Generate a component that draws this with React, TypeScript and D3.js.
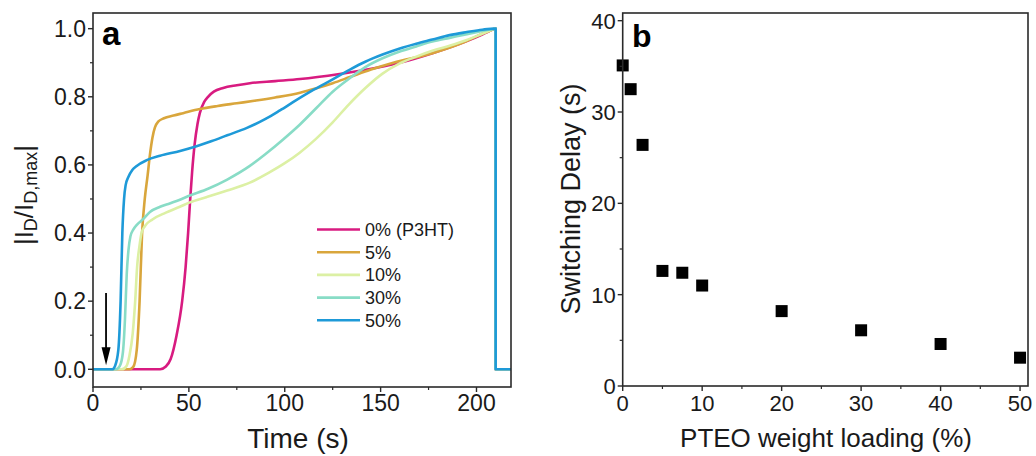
import React from "react";
import * as d3 from "d3";

const W = 1036;
const H = 456;
const FONT = "'Liberation Sans', Arial, Helvetica, sans-serif";

// ---------- Panel a data: normalized drain current |ID/ID,max| vs time (s) ----------
const SERIES_LABELS = ["0% (P3HT)", "5%", "10%", "30%", "50%"];
const SERIES_COLORS = ["#d81b80", "#d9a63c", "#dcf0a4", "#88dcc6", "#1e9ad8"];

const CURVE_0: [number, number][] = [
  [0, 0], [35, 0], [38, 0.008], [40.5, 0.03], [43.6, 0.1], [46.5, 0.2], [48.3, 0.3],
  [49.6, 0.4], [50.7, 0.5], [51.7, 0.58], [53, 0.66], [54.5, 0.72], [55.7, 0.752],
  [58, 0.785], [60, 0.8], [63, 0.815], [67.9, 0.826], [75, 0.834], [81.8, 0.84],
  [95, 0.846], [108, 0.852], [128.6, 0.867], [143, 0.88], [160, 0.9], [177, 0.928],
  [194.6, 0.963], [203, 0.983], [209.5, 1.0],
];
const CURVE_5: [number, number][] = [
  [0, 0], [19, 0], [21, 0.007], [22.8, 0.056], [24.3, 0.2], [25.6, 0.4], [27, 0.5],
  [28.5, 0.57], [29.7, 0.63], [31, 0.68], [32.3, 0.71], [34, 0.727], [37, 0.737],
  [42, 0.745], [47, 0.752], [55.7, 0.764], [65, 0.773], [75, 0.781], [85, 0.789],
  [95, 0.798], [108, 0.812], [116.5, 0.825], [125, 0.84], [134, 0.858], [145, 0.88],
  [156.6, 0.9], [177, 0.928], [194.6, 0.963], [203, 0.985], [209.5, 1.0],
];
const CURVE_10: [number, number][] = [
  [0, 0], [15, 0], [17.5, 0.01], [19, 0.04], [20.7, 0.105], [22, 0.2], [23, 0.3],
  [24.2, 0.36], [25.3, 0.4], [27, 0.42], [31, 0.44], [38, 0.46], [45.3, 0.477],
  [50.5, 0.49], [59, 0.505], [70, 0.525], [81.8, 0.548], [92, 0.578], [100, 0.605],
  [107.8, 0.636], [116, 0.675], [125, 0.725], [133, 0.775], [142.5, 0.828], [151, 0.868],
  [160, 0.898], [168.6, 0.918], [177, 0.935], [186, 0.95], [194.6, 0.966], [203, 0.985],
  [209.5, 1.0],
];
const CURVE_30: [number, number][] = [
  [0, 0], [12, 0], [14, 0.01], [15.6, 0.05], [16.7, 0.15], [17.6, 0.28], [18.5, 0.35],
  [19.5, 0.39], [21, 0.41], [23, 0.425], [26, 0.44], [29.7, 0.462], [35, 0.477],
  [40, 0.487], [45, 0.497], [50.5, 0.51], [60, 0.53], [70, 0.557], [81.8, 0.597],
  [90, 0.632], [99, 0.674], [107.8, 0.718], [116.5, 0.767], [125, 0.815], [134, 0.855],
  [142, 0.887], [151, 0.913], [160, 0.933], [168.6, 0.948], [177, 0.962], [186, 0.973],
  [195, 0.984], [203, 0.993], [209.5, 1.0],
];
const CURVE_50: [number, number][] = [
  [0, 0], [10, 0], [11.5, 0.01], [13.2, 0.056], [14.4, 0.2], [15.3, 0.4], [16.2, 0.5],
  [17, 0.54], [18.5, 0.565], [20.5, 0.585], [22.8, 0.597], [28, 0.614], [35, 0.627],
  [45.4, 0.641], [54, 0.655], [62, 0.67], [70, 0.687], [80, 0.708], [90, 0.735],
  [97.5, 0.76], [106, 0.79], [114.9, 0.82], [125, 0.851], [134, 0.88], [142, 0.903],
  [151, 0.924], [160, 0.942], [168.6, 0.956], [177, 0.968], [186, 0.981], [195, 0.99],
  [203, 0.997], [209.5, 1.0],
];
const CURVES = [CURVE_0, CURVE_5, CURVE_10, CURVE_30, CURVE_50];
const OFF_TIME = 210; // gate switched off: current drops to zero
const END_TIME = 218;

const A_X_TICKS = [0, 50, 100, 150, 200];
const A_X_MINOR = [25, 75, 125, 175];
const A_Y_TICKS = [0, 0.2, 0.4, 0.6, 0.8, 1.0];
const A_Y_MINOR = [0.1, 0.3, 0.5, 0.7, 0.9];
const ARROW = { t: 6.8, from: 0.224, to: 0.012 };

// ---------- Panel b data: switching delay vs PTEO loading ----------
const LOADING = [0, 1, 2.5, 5, 7.5, 10, 20, 30, 40, 50];
const DELAY = [35.1, 32.5, 26.4, 12.6, 12.4, 11.0, 8.2, 6.1, 4.6, 3.1];
const B_X_TICKS = [0, 10, 20, 30, 40, 50];
const B_X_MINOR = [5, 15, 25, 35, 45];
const B_Y_TICKS = [0, 10, 20, 30, 40];
const B_Y_MINOR = [5, 15, 25, 35];

const AXIS = "#2a2a2a";
const TXT = "#1a1a1a";

export default function App() {
  // Panel a scales
  const xA = d3.scaleLinear().domain([0, END_TIME]).range([93, 511]);
  const yA = d3.scaleLinear().domain([-0.052, 1.046]).range([387, 13]);
  const lineA = d3
    .line<[number, number]>()
    .x((d) => xA(d[0]))
    .y((d) => yA(d[1]))
    .curve(d3.curveMonotoneX);
  const tailA = d3
    .line<[number, number]>()
    .x((d) => xA(d[0]))
    .y((d) => yA(d[1]));

  // Panel b scales
  const xB = d3.scaleLinear().domain([0, 51]).range([622.7, 1028]);
  const yB = d3.scaleLinear().domain([0, 40.84]).range([386, 13]);

  const [ax0, ax1] = xA.range();
  const [ay0, ay1] = yA.range();
  const [bx0, bx1] = xB.range();
  const [by0, by1] = yB.range();

  const legendX0 = 317;
  const legendX1 = 360;
  const legendY0 = 229.5;
  const legendDy = 22.7;

  return (
    <div style={{ position: "absolute", left: 0, top: 0, background: "#fff" }}>
      <svg width={W} height={H} viewBox={`0 0 ${W} ${H}`} style={{ display: "block", fontFamily: FONT }}>
        <rect x={0} y={0} width={W} height={H} fill="#fff" />

        {/* ================= Panel a ================= */}
        <g>
          {CURVES.map((c, i) => {
            const last = c[c.length - 1];
            const d =
              (lineA(c) || "") +
              (tailA([
                [last[0], last[1]],
                [OFF_TIME, last[1]],
                [OFF_TIME, 0],
                [END_TIME, 0],
              ]) || "");
            return (
              <path
                key={i}
                d={d}
                fill="none"
                stroke={SERIES_COLORS[i]}
                strokeWidth={2.6}
                strokeLinejoin="round"
              />
            );
          })}

          {/* arrow */}
          <line
            x1={xA(ARROW.t)}
            x2={xA(ARROW.t)}
            y1={yA(ARROW.from)}
            y2={yA(ARROW.to) - 14}
            stroke="#000"
            strokeWidth={1.8}
          />
          <path
            d={`M${xA(ARROW.t) - 4.5},${yA(ARROW.to) - 18} L${xA(ARROW.t) + 4.5},${yA(ARROW.to) - 18} L${xA(ARROW.t)},${yA(ARROW.to)} Z`}
            fill="#000"
          />

          {/* frame */}
          <rect x={ax0} y={ay1} width={ax1 - ax0} height={ay0 - ay1} fill="none" stroke={AXIS} strokeWidth={1.6} />

          {/* y ticks */}
          {A_Y_TICKS.map((v) => (
            <g key={"ay" + v}>
              <line x1={ax0 - 5} x2={ax0} y1={yA(v)} y2={yA(v)} stroke={AXIS} strokeWidth={1.4} />
              <text x={ax0 - 7} y={yA(v)} dy="0.36em" textAnchor="end" fontSize={23} fill={TXT}>
                {d3.format(".1f")(v)}
              </text>
            </g>
          ))}
          {A_Y_MINOR.map((v) => (
            <line key={"aym" + v} x1={ax0 - 3} x2={ax0} y1={yA(v)} y2={yA(v)} stroke={AXIS} strokeWidth={1.2} />
          ))}
          {/* x ticks */}
          {A_X_TICKS.map((t) => (
            <g key={"ax" + t}>
              <line x1={xA(t)} x2={xA(t)} y1={ay0} y2={ay0 + 5} stroke={AXIS} strokeWidth={1.4} />
              <text x={xA(t)} y={411} textAnchor="middle" fontSize={23} fill={TXT}>
                {t}
              </text>
            </g>
          ))}
          {A_X_MINOR.map((t) => (
            <line key={"axm" + t} x1={xA(t)} x2={xA(t)} y1={ay0} y2={ay0 + 3} stroke={AXIS} strokeWidth={1.2} />
          ))}

          {/* titles */}
          <text x={(ax0 + ax1) / 2 - 4} y={448} textAnchor="middle" fontSize={28} fill={TXT}>
            Time (s)
          </text>
          <g transform={`translate(33, ${(ay0 + ay1) / 2 - 5}) rotate(-90)`}>
            <text x={0} y={0} textAnchor="middle" fontSize={26} fill={TXT}>
              |I<tspan fontSize={18} baselineShift="-22%">D</tspan>/I
              <tspan fontSize={18} baselineShift="-22%">D,max</tspan>|
            </text>
          </g>
          <text x={102} y={45} fontSize={33} fontWeight="bold" fill="#000">
            a
          </text>

          {/* legend */}
          {SERIES_LABELS.map((lab, i) => (
            <g key={"lg" + i}>
              <line
                x1={legendX0}
                x2={legendX1}
                y1={legendY0 + i * legendDy}
                y2={legendY0 + i * legendDy}
                stroke={SERIES_COLORS[i]}
                strokeWidth={2.6}
              />
              <text x={legendX1 + 5} y={legendY0 + i * legendDy} dy="0.36em" fontSize={18} fill={TXT}>
                {lab}
              </text>
            </g>
          ))}
        </g>

        {/* ================= Panel b ================= */}
        <g>
          {LOADING.map((x, i) => (
            <rect key={"pt" + i} x={xB(x) - 6} y={yB(DELAY[i]) - 6} width={12} height={12} fill="#000" />
          ))}

          <rect x={bx0} y={by1} width={bx1 - bx0} height={by0 - by1} fill="none" stroke={AXIS} strokeWidth={1.6} />

          {B_Y_TICKS.map((v) => (
            <g key={"by" + v}>
              <line x1={bx0 - 5} x2={bx0} y1={yB(v)} y2={yB(v)} stroke={AXIS} strokeWidth={1.4} />
              <text x={bx0 - 7} y={yB(v)} dy="0.36em" textAnchor="end" fontSize={22} fill={TXT}>
                {v}
              </text>
            </g>
          ))}
          {B_Y_MINOR.map((v) => (
            <line key={"bym" + v} x1={bx0 - 3} x2={bx0} y1={yB(v)} y2={yB(v)} stroke={AXIS} strokeWidth={1.2} />
          ))}
          {B_X_TICKS.map((t) => (
            <g key={"bx" + t}>
              <line x1={xB(t)} x2={xB(t)} y1={by0} y2={by0 + 5} stroke={AXIS} strokeWidth={1.4} />
              <text x={xB(t)} y={411} textAnchor="middle" fontSize={22} fill={TXT}>
                {t}
              </text>
            </g>
          ))}
          {B_X_MINOR.map((t) => (
            <line key={"bxm" + t} x1={xB(t)} x2={xB(t)} y1={by0} y2={by0 + 3} stroke={AXIS} strokeWidth={1.2} />
          ))}

          <text x={826} y={447} textAnchor="middle" fontSize={26} fill={TXT}>
            PTEO weight loading (%)
          </text>
          <g transform={`translate(580, 199) rotate(-90)`}>
            <text x={0} y={0} textAnchor="middle" fontSize={27} fill={TXT}>
              Switching Delay (s)
            </text>
          </g>
          <text x={632} y={47} fontSize={32} fontWeight="bold" fill="#000">
            b
          </text>
        </g>
      </svg>
    </div>
  );
}
